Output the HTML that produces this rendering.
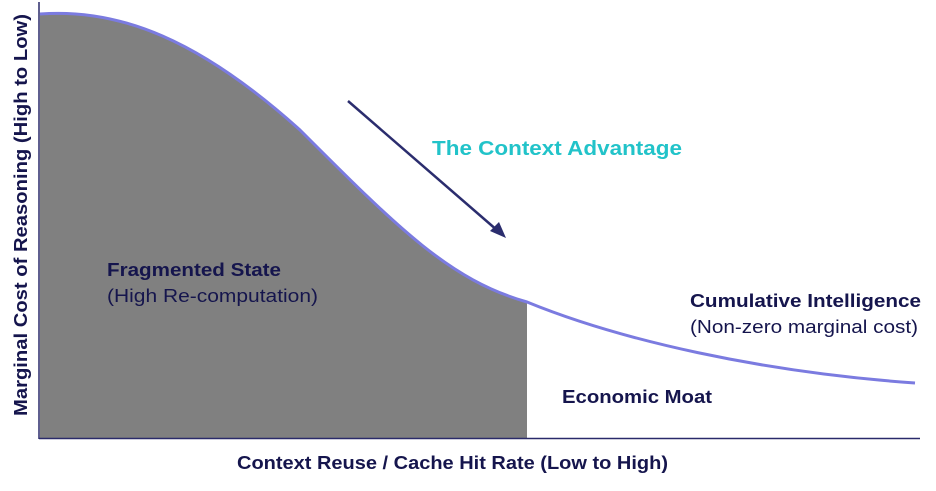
<!DOCTYPE html>
<html><head><style>
body{margin:0;width:936px;height:486px;background:#fff;overflow:hidden;font-family:"Liberation Sans",sans-serif}
</style></head><body>
<svg width="936" height="486" xmlns="http://www.w3.org/2000/svg">
<defs>
<clipPath id="c"><rect x="39" y="0" width="488" height="440"/></clipPath>
</defs>
<path d="M40,14 C120,8 200,40 300,130 C400,230 450,280 527,302 C620,340 760,372 915,383 L915,438 L40,438 Z" fill="#808080" clip-path="url(#c)"/>
<path d="M40,14 C120,8 200,40 300,130 C400,230 450,280 527,302 C620,340 760,372 915,383" fill="none" stroke="#7b7be0" stroke-width="3"/>
<line x1="39" y1="2" x2="39" y2="439" stroke="#2a2a6a" stroke-width="1.5"/>
<line x1="39" y1="438.5" x2="920" y2="438.5" stroke="#2a2a6a" stroke-width="1.5"/>
<line x1="348" y1="101" x2="498" y2="231" stroke="#2b2d6e" stroke-width="2.5"/>
<polygon points="506,238 490,231 499,222" fill="#2b2d6e"/>
<text x="432" y="155" font-size="20" font-weight="bold" fill="#22c3c9" textLength="250" lengthAdjust="spacingAndGlyphs">The Context Advantage</text>
<text x="107" y="276" font-size="18" font-weight="bold" fill="#15154d" textLength="174" lengthAdjust="spacingAndGlyphs">Fragmented State</text>
<text x="107" y="302" font-size="18" fill="#15154d" textLength="211" lengthAdjust="spacingAndGlyphs">(High Re-computation)</text>
<text x="690" y="307" font-size="18" font-weight="bold" fill="#15154d" textLength="231" lengthAdjust="spacingAndGlyphs">Cumulative Intelligence</text>
<text x="690" y="333" font-size="18" fill="#15154d" textLength="228" lengthAdjust="spacingAndGlyphs">(Non-zero marginal cost)</text>
<text x="562" y="403" font-size="18" font-weight="bold" fill="#15154d" textLength="150" lengthAdjust="spacingAndGlyphs">Economic Moat</text>
<text x="237" y="469" font-size="18" font-weight="bold" fill="#15154d" textLength="431" lengthAdjust="spacingAndGlyphs">Context Reuse / Cache Hit Rate (Low to High)</text>
<text transform="translate(27,416) rotate(-90)" font-size="18" font-weight="bold" fill="#15154d" textLength="402" lengthAdjust="spacingAndGlyphs">Marginal Cost of Reasoning (High to Low)</text>
</svg>
</body></html>
